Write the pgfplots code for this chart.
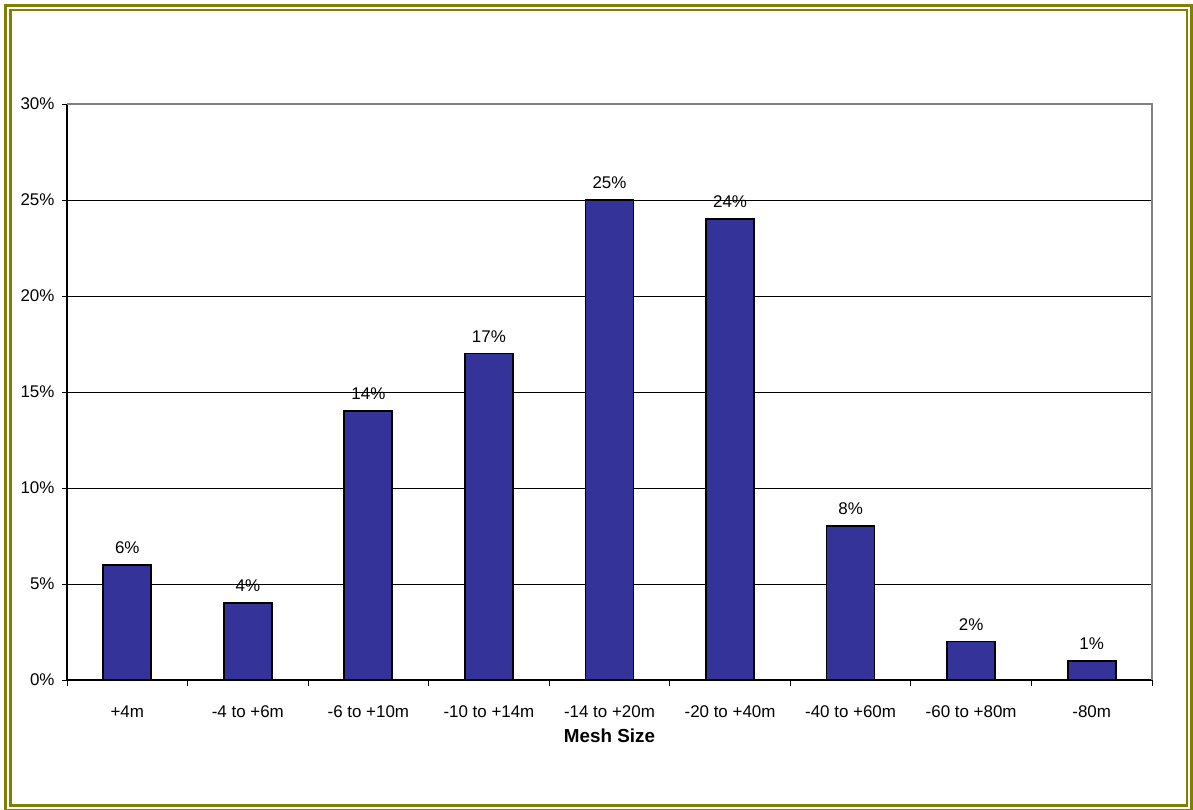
\documentclass[border=0pt]{standalone}
\usepackage{pgfplots}
\pgfplotsset{compat=1.18}
\usepackage{fontspec}
\setmainfont{Liberation Sans}
\definecolor{olivebd}{HTML}{808000}
\definecolor{barblue}{HTML}{333399}
\begin{document}
\begin{tikzpicture}[x=1bp,y=1bp]
\useasboundingbox (0,0) rectangle (1193,810);
\draw[olivebd,line width=3.2bp] (5.5,-1) rectangle (1191.5,804.5);
\draw[olivebd,line width=2.6bp] (10.3,4.5) rectangle (1187,799.8);
\begin{axis}[
  at={(67bp,130bp)}, anchor=south west,
  scale only axis, width=1085bp, height=576bp,
  xmin=-0.5, xmax=8.5, ymin=0, ymax=30,
  axis x line*=bottom, axis y line*=left,
  axis line style={black, line width=1.1bp},
  xtick={0,...,8},
  xticklabels={+4m,-4 to +6m,-6 to +10m,-10 to +14m,-14 to +20m,-20 to +40m,-40 to +60m,-60 to +80m,-80m},
  major x tick style={draw=none},
  minor xtick={-0.5,0.5,...,8.5},
  minor tick length=6bp,
  minor x tick style={black, line width=0.9bp},
  tick align=outside,
  ytick={0,5,...,30},
  yticklabels={0\%,5\%,10\%,15\%,20\%,25\%,30\%},
  major tick length=5bp,
  y tick style={black, line width=0.9bp},
  ymajorgrids, grid style={black, line width=0.8bp},
  tick label style={font=\fontsize{17}{20}\selectfont},
  xticklabel style={anchor=base, yshift=-32.7bp},
  yticklabel style={anchor=east, xshift=-4bp},
  xlabel={Mesh Size},
  xlabel style={font=\fontsize{18.9}{22}\selectfont\bfseries, at={(axis description cs:0.5,0)}, anchor=base, yshift=-62.7bp},
  ybar, bar width=48bp,
  nodes near coords={\pgfmathprintnumber{\pgfplotspointmeta}\%},
  every node near coord/.append style={font=\fontsize{17}{20}\selectfont, anchor=base, yshift=11.5bp, black},
  /pgf/number format/assume math mode=true,
  clip=false,
]
\addplot[fill=barblue, draw=black, line width=1.8bp] coordinates {(0,6) (1,4) (2,14) (3,17) (4,25) (5,24) (6,8) (7,2) (8,1)};
\draw[gray, line width=2bp] (rel axis cs:0,1) -- (rel axis cs:1,1) -- (rel axis cs:1,0);
\end{axis}
\end{tikzpicture}
\end{document}
